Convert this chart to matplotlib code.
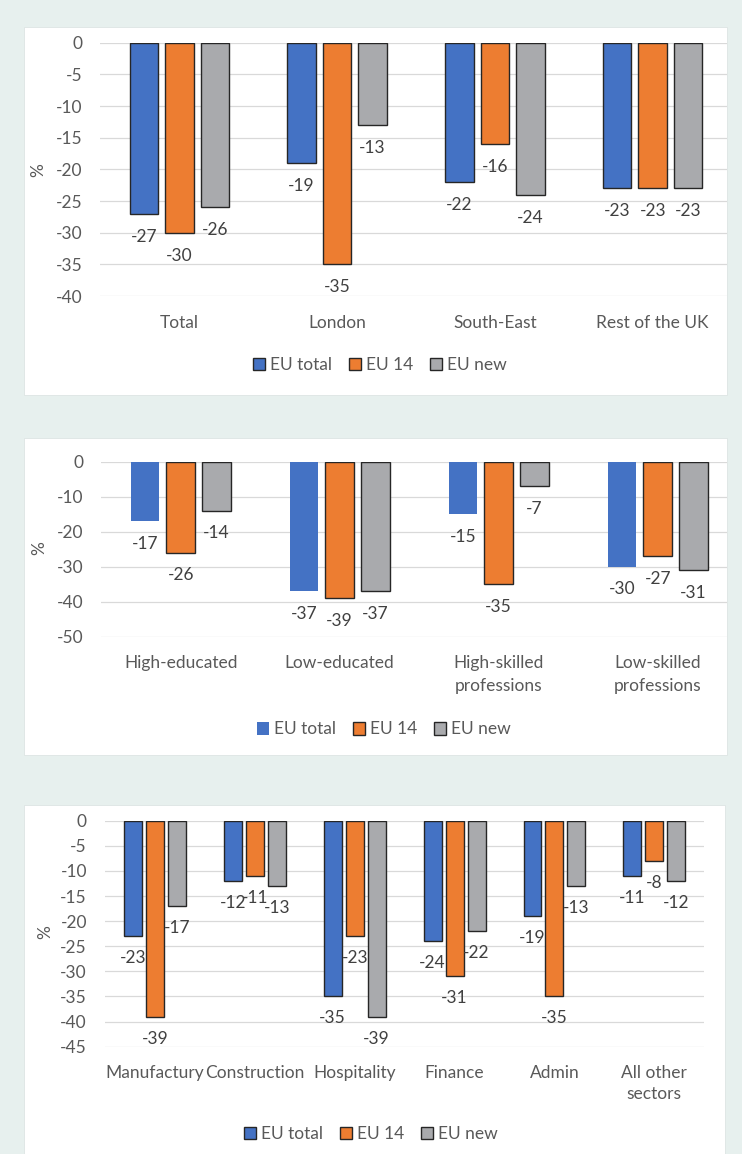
import matplotlib
matplotlib.use("Agg")
import matplotlib.pyplot as plt
from matplotlib.patches import Rectangle
import numpy as np

plt.rcParams['font.family'] = ['Lato', 'DejaVu Sans']

# ---------------- data ----------------
series = ["EU total", "EU 14", "EU new"]
colors = ["#4472C4", "#ED7D31", "#A9AAAD"]

regions = ["Total", "London", "South-East", "Rest of the UK"]
reg_eu_total = [-27, -19, -22, -23]
reg_eu14 = [-30, -35, -16, -23]
reg_eu_new = [-26, -13, -24, -23]
reg_yticks = [0, -5, -10, -15, -20, -25, -30, -35, -40]

skills = ["High-educated", "Low-educated", "High-skilled\nprofessions", "Low-skilled\nprofessions"]
sk_eu_total = [-17, -37, -15, -30]
sk_eu14 = [-26, -39, -35, -27]
sk_eu_new = [-14, -37, -7, -31]
sk_yticks = [0, -10, -20, -30, -40, -50]

sectors = ["Manufactury", "Construction", "Hospitality", "Finance", "Admin", "All other\nsectors"]
sec_eu_total = [-23, -12, -35, -24, -19, -11]
sec_eu14 = [-39, -11, -23, -31, -35, -8]
sec_eu_new = [-17, -13, -39, -22, -13, -12]
sec_yticks = [0, -5, -10, -15, -20, -25, -30, -35, -40, -45]

# ---------------- layout ----------------
W, H = 742, 1154
BG = "#e7f0ee"
TICK_C = "#595959"
LAB_C = "#404040"
EDGE = "#262626"
FS = 12.5

fig = plt.figure(figsize=(W / 100, H / 100), dpi=100, facecolor=BG)


def panel(x0, x1, y0, y1):
    fig.patches.append(Rectangle((x0 / W, 1 - y1 / H), (x1 - x0) / W, (y1 - y0) / H,
                                 transform=fig.transFigure, facecolor="white",
                                 edgecolor="#dde5e3", linewidth=0.6, zorder=-5))


def axes_px(x0, x1, y0, y1):
    return fig.add_axes([x0 / W, 1 - y1 / H, (x1 - x0) / W, (y1 - y0) / H])


def draw(ax, cats, vals, yticks, width, step, xmax, edge_flags, label_off, xpad, ypad, lsp):
    x = np.arange(len(cats))
    for i, (v, c, e) in enumerate(zip(vals, colors, edge_flags)):
        xs = x + (i - 1) * step
        ax.bar(xs, v, width=width, color=c, edgecolor=EDGE if e else "none",
               linewidth=1.0 if e else 0, label=series[i], zorder=3)
        for xi, vi in zip(xs, v):
            ax.annotate(f"{vi}", xy=(xi, vi), xytext=(0, -label_off), textcoords="offset pixels",
                        ha="center", va="center", color=LAB_C, fontsize=FS, annotation_clip=False)
    ax.set_xlim(-0.5, xmax)
    ax.set_ylim(min(yticks), 0)
    ax.set_yticks(yticks)
    ax.set_yticklabels([str(t) for t in yticks])
    ax.set_xticks(x)
    ax.set_xticklabels(cats, linespacing=lsp)
    ax.tick_params(axis="both", length=0, labelsize=FS, labelcolor=TICK_C)
    ax.tick_params(axis="x", pad=xpad)
    ax.tick_params(axis="y", pad=ypad)
    ax.yaxis.grid(True, color="#d9d9d9", linewidth=0.9, zorder=0)
    ax.set_axisbelow(True)
    for s in ax.spines.values():
        s.set_visible(False)
    ax.patch.set_visible(False)


def legend(ax, cx, cy):
    h, l = ax.get_legend_handles_labels()
    fig.legend(h, l, loc="center", bbox_to_anchor=(cx / W, 1 - cy / H), ncol=3, frameon=False,
               fontsize=FS, labelcolor=TICK_C, handlelength=0.7, handleheight=0.7,
               handletextpad=0.3, columnspacing=0.95, borderpad=0)


# Panel 1
panel(24, 727, 27, 395)
ax1 = axes_px(100.4, 727, 42.7, 296)
draw(ax1, regions, [reg_eu_total, reg_eu14, reg_eu_new], reg_yticks,
     0.18, 0.225, -0.5 + (727 - 100.4) / 157.8, [True, True, True], 23, 14, 13, 1.2)
fig.text(38 / W, 1 - 170 / H, "%", rotation=90, ha="center", va="center", color=TICK_C, fontsize=FS)
legend(ax1, 380, 365)

# Panel 2
panel(24, 727, 438, 755)
ax2 = axes_px(101.2, 727, 461.7, 636.7)
draw(ax2, skills, [sk_eu_total, sk_eu14, sk_eu_new], sk_yticks,
     0.18, 0.225, -0.5 + (727 - 101.2) / 159.0, [False, True, True], 22.5, 13, 13, 1.55)
fig.text(39 / W, 1 - 548 / H, "%", rotation=90, ha="center", va="center", color=TICK_C, fontsize=FS)
legend(ax2, 384, 729.5)

# Panel 3
panel(24, 725, 805, 1160)
ax3 = axes_px(105, 704.3, 820.7, 1046.7)
draw(ax3, sectors, [sec_eu_total, sec_eu14, sec_eu_new], sec_yticks,
     0.18, 0.22, 5.5, [True, True, True], 22, 13, 13, 1.4)
fig.text(45 / W, 1 - 931.7 / H, "%", rotation=90, ha="center", va="center", color=TICK_C, fontsize=FS)
legend(ax3, 371, 1134)

fig.savefig("out.png", dpi=100, facecolor=BG)
